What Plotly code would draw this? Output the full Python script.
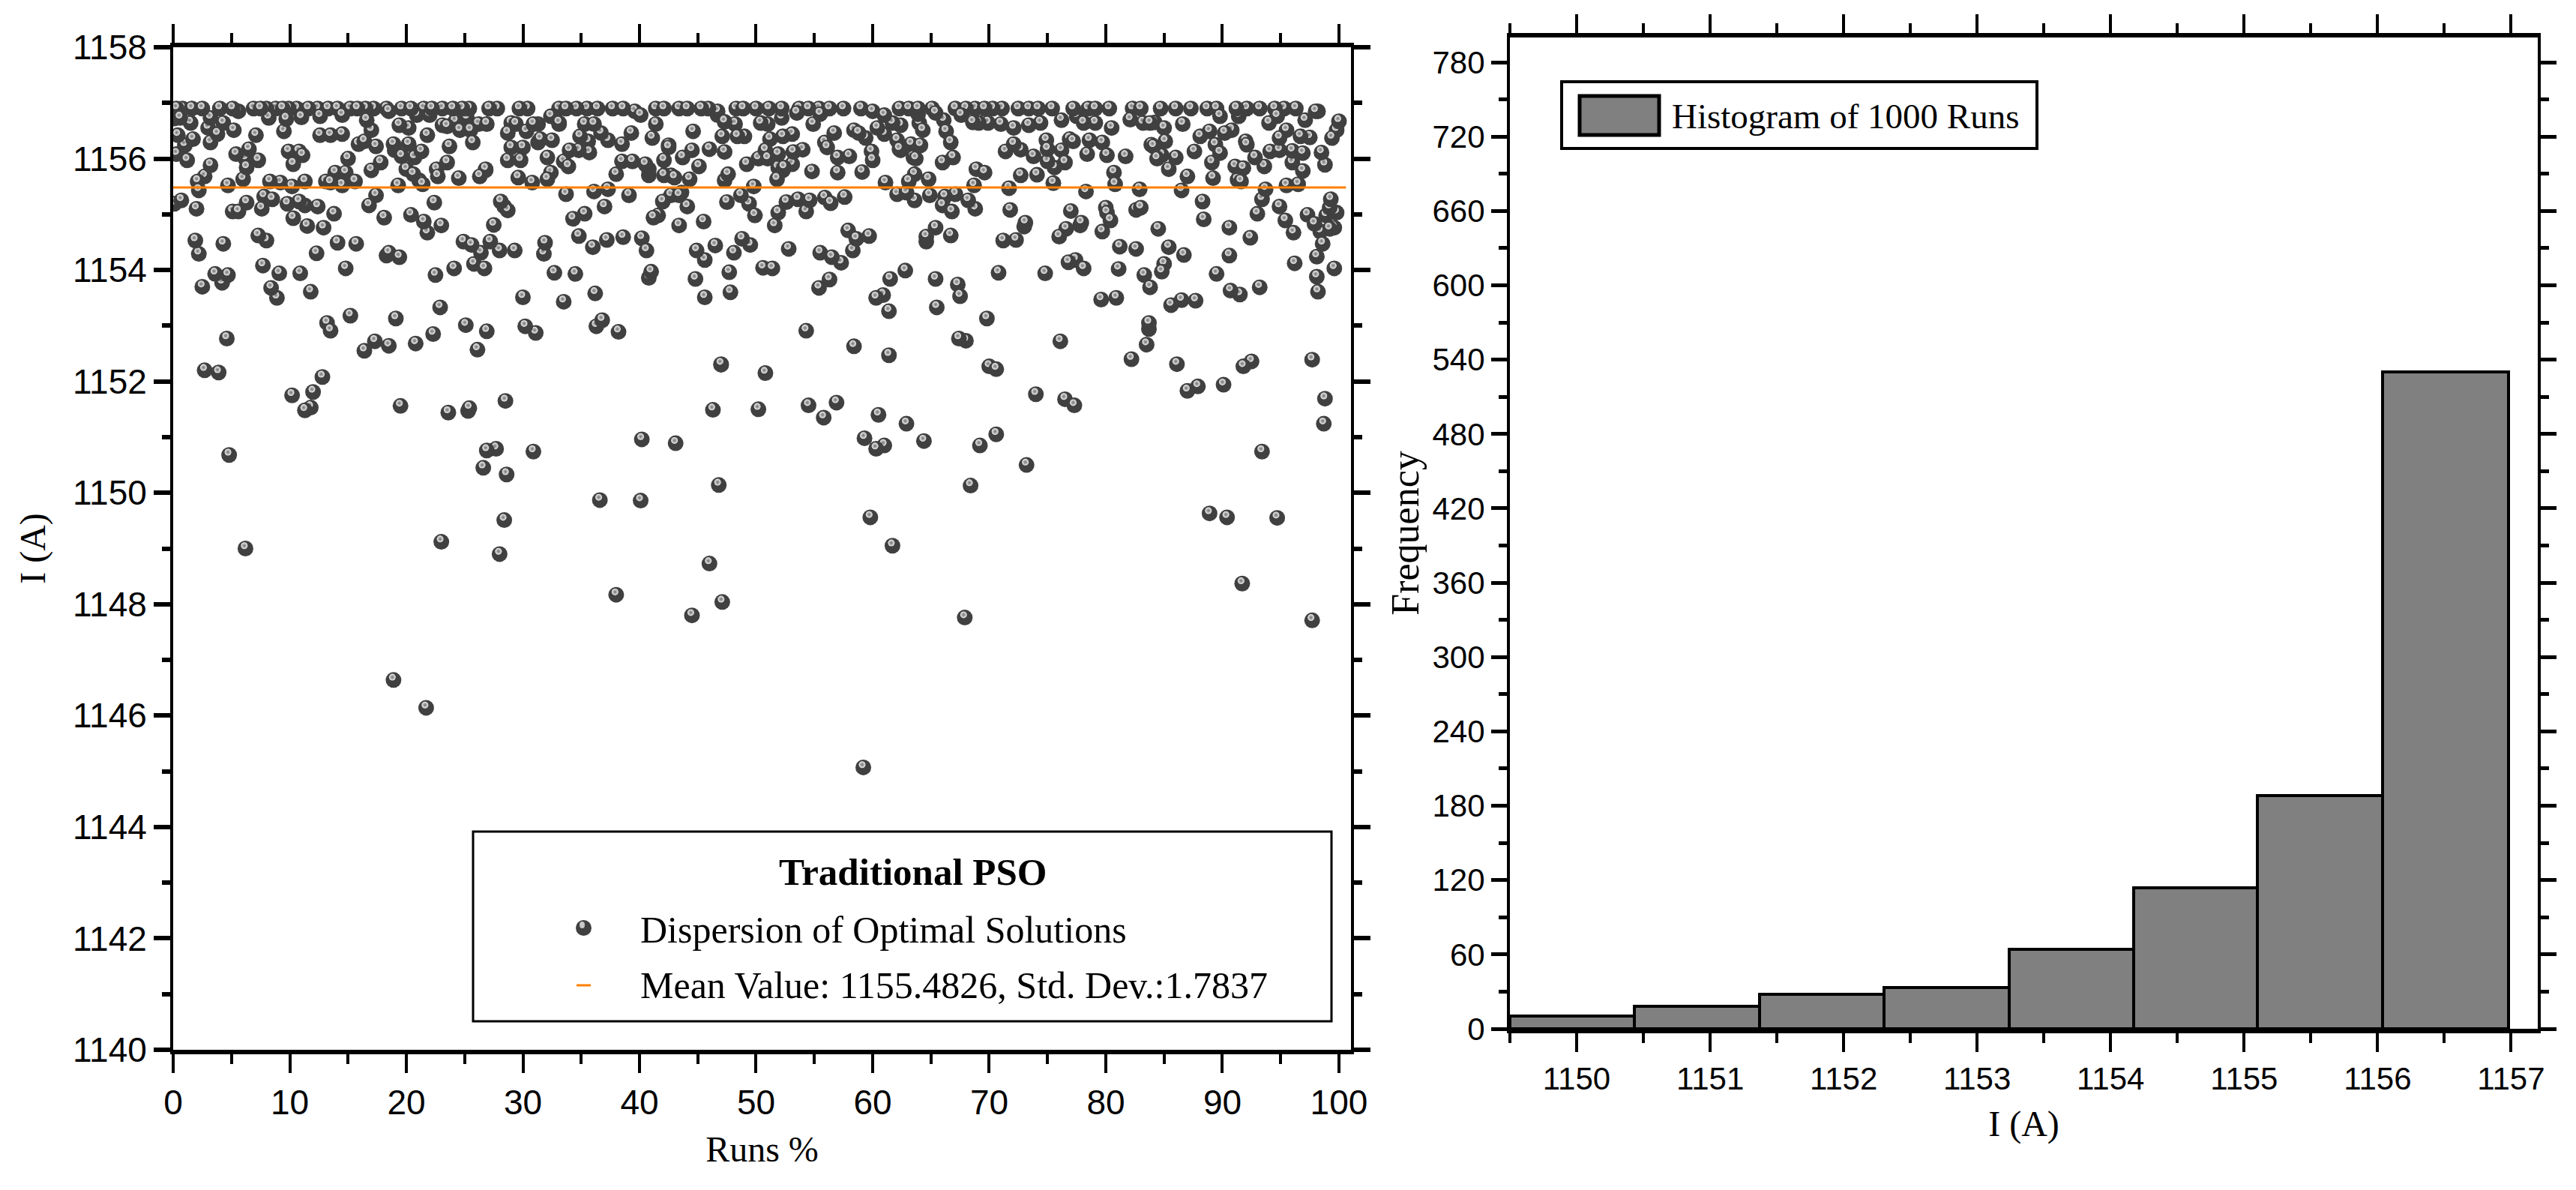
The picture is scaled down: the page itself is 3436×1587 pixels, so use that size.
import plotly.graph_objects as go
from plotly.subplots import make_subplots

W, H = 3436, 1587
OFF = 8  # the page's own body margin
SANS = "Liberation Sans, Arial, sans-serif"
SERIF = "Liberation Serif, serif"

# --- Left panel: (Runs %, I in A), by height band ---
top_row_runs = [0.3,0.8,1.6,2.5,4.0,5.1,6.9,7.5,8.0,8.8,9.4,9.9,10.6,11.6,12.4,13.3,14.1,15.2,15.8,16.5,17.2,18.3,19.6,20.4,21.5,22.2,23.1,24.0,24.8,25.4,27.1,27.8,29.7,30.4,33.1,33.7,34.6,35.5,36.4,37.7,38.6,41.4,42.1,
 43.4,44.1,45.3,45.9,48.3,48.9,50.0,51.1,52.2,53.7,54.5,55.4,56.3,57.5,59.0,62.3,63.1,63.9,65.1,67.1,68.0,68.8,69.6,70.3,71.1,72.5,73.4,74.2,75.4,77.2,78.5,79.1,80.3,82.3,83.0,84.7,86.0,87.3,88.7,89.5,91.2,92.1,93.2,94.5,95.3,96.3]
top_row_current = 1156.9

band_a = [(0.1,1156.72),(0.6,1156.73),(1.5,1156.64),(3.2,1156.73),(4.3,1156.64),(5.6,1156.85),(8.2,1156.73),(9.7,1156.71),(11.0,1156.74),(12.6,1156.76),(14.5,1156.78),(16.6,1156.69),(18.5,1156.85),(20.9,1156.78),(22.0,1156.78),(24.2,1156.67),(25.2,1156.73),(29.4,1156.62),(31.3,1156.62),(32.4,1156.76),(33.1,1156.62),(35.3,1156.62),(36.1,1156.62),(40.1,1156.78),(39.6,1156.85),(41.4,1156.62),
 (46.7,1156.85),(46.7,1156.78),(47.3,1156.66),(48.2,1156.62),(50.4,1156.64),(51.0,1156.62),(52.2,1156.73),(55.5,1156.80),(54.9,1156.62),(53.5,1156.82),(60.0,1156.85),(61.0,1156.78),(61.7,1156.64),(62.4,1156.60),(63.9,1156.80),(64.0,1156.64),(65.4,1156.82),(66.1,1156.69),(67.6,1156.78),(68.6,1156.65),(69.1,1156.64),(69.9,1156.64),(71.0,1156.62),(72.1,1156.55),(73.4,1156.60),(74.4,1156.64),(76.2,1156.69),(77.5,1156.76),(78.1,1156.64),(79.1,1156.64),(82.1,1156.70),(83.2,1156.64),(84.2,1156.65),(85.0,1156.55),(86.6,1156.62),(89.8,1156.76),(91.4,1156.76),(94.7,1156.76),(97.1,1156.69),(98.2,1156.85),(94.0,1156.64),(83.8,1156.64),(80.5,1156.55),(98.0,1156.85)]

band_b = [(3.0,1156.55),(3.8,1156.44),(5.2,1156.51),(7.1,1156.42),(0.4,1156.42),(1.7,1156.35),(1.0,1156.24),(3.2,1156.29),(12.6,1156.42),(13.5,1156.42),(14.5,1156.44),(9.5,1156.49),(17.0,1156.51),(19.4,1156.60),(20.2,1156.55),(21.8,1156.42),(23.1,1156.60),(23.5,1156.58),(24.6,1156.51),(25.5,1156.51),(26.2,1156.62),(26.9,1156.62),(28.7,1156.46),(30.3,1156.49),(29.0,1156.64),(30.9,1156.62),(31.5,1156.35),(32.5,1156.33),(33.1,1156.64),(34.9,1156.40),(35.6,1156.31),(36.7,1156.46),(37.3,1156.33),(38.5,1156.26),(39.3,1156.46),(41.1,1156.37),(42.5,1156.24),(15.9,1156.26),(16.4,1156.31),(17.4,1156.22),(18.9,1156.26),(20.2,1156.26),(23.7,1156.22),(25.7,1156.29),(29.0,1156.20),(30.0,1156.20),(31.3,1156.29),
 (44.6,1156.49),(47.1,1156.40),(49.0,1156.40),(48.4,1156.40),(53.1,1156.44),(51.2,1156.35),(52.3,1156.40),(56.7,1156.46),(58.4,1156.51),(59.4,1156.37),(58.8,1156.46),(60.4,1156.55),(61.0,1156.44),(62.1,1156.33),(63.3,1156.26),(64.1,1156.24),(64.3,1156.51),(66.3,1156.49),(66.7,1156.29),(72.1,1156.26),(71.4,1156.13),(72.7,1156.16),(74.9,1156.33),(75.0,1156.17),(76.9,1156.35),(77.2,1156.31),(78.6,1156.33),(79.7,1156.29),(83.9,1156.25),(85.1,1156.31),(88.1,1156.40),(88.9,1156.49),(90.8,1156.51),(90.2,1156.46),(92.0,1156.31),(92.1,1156.25),(95.5,1156.51),(94.9,1156.37),(96.7,1156.40),(97.5,1156.38),(100.0,1156.67),(99.8,1156.51),(99.4,1156.37),(89.4,1156.25),(55.9,1156.29),(56.1,1156.20),(62.3,1156.17)]

band_c = [(0.3,1156.08),(1.2,1155.97),(5.4,1156.08),(6.2,1156.0),(7.3,1155.97),(6.5,1156.17),(9.9,1156.13),(10.8,1156.13),(11.1,1156.06),(10.3,1155.90),(15.0,1156.0),(17.8,1155.93),(17.0,1155.79),(19.0,1156.15),(19.6,1156.04),(21.3,1156.13),(20.7,1156.02),(23.5,1155.93),(22.6,1155.81),(26.8,1155.81),(28.7,1155.97),(29.8,1155.97),(32.1,1156.02),(33.5,1155.95),(33.9,1155.86),(34.0,1156.15),(34.8,1156.15),(35.7,1156.11),(38.5,1155.95),(39.4,1155.95),(40.5,1155.90),(40.8,1155.81),(42.1,1155.97),(42.5,1156.20),(3.2,1155.88),(6.3,1155.84),(20.0,1155.81),
 (44.5,1156.15),(46.0,1156.17),(47.3,1156.12),(43.7,1156.02),(45.1,1155.86),(50.8,1156.15),(51.9,1156.08),(54.0,1156.16),(53.2,1156.12),(49.2,1155.90),(50.2,1156.0),(51.0,1156.0),(51.9,1155.84),(53.1,1155.90),(52.4,1155.84),(57.0,1156.02),(58.0,1156.04),(59.9,1156.13),(60.0,1155.97),(62.4,1156.15),(63.5,1156.02),(63.7,1156.0),(66.0,1155.93),(66.9,1156.02),(68.9,1155.81),(69.6,1155.75),(73.8,1156.04),(76.2,1156.15),(75.0,1155.95),(76.5,1155.93),(75.6,1155.84),(78.4,1156.08),(80.1,1156.06),(81.7,1156.04),(84.1,1156.22),(84.4,1156.0),(84.8,1156.06),(86.0,1156.02),(85.4,1155.81),(87.6,1156.13),(89.1,1155.93),(89.8,1156.10),(91.1,1155.86),(91.8,1155.83),(92.8,1156.02),(93.6,1155.86),(94.1,1156.13),(94.9,1156.15),(96.0,1156.14),(96.9,1156.10),(96.0,1155.93),(98.5,1156.11),(98.8,1155.89),(96.9,1155.78)]

band_d = [(2.7,1155.68),(2.1,1155.59),(4.7,1155.52),(6.0,1155.63),(8.3,1155.59),(9.2,1155.57),(10.2,1155.50),(11.3,1155.59),(13.9,1155.75),(14.8,1155.75),(13.1,1155.59),(13.5,1155.57),(14.5,1155.52),(15.6,1155.59),(19.3,1155.52),(20.6,1155.72),(21.1,1155.61),(21.4,1155.54),(22.7,1155.68),(24.5,1155.65),(26.3,1155.68),(26.8,1155.79),(29.6,1155.66),(30.8,1155.57),(32.1,1155.63),(32.4,1155.75),(38.0,1155.72),(40.8,1155.70),(42.1,1155.70),(42.7,1155.70),
 (54.8,1155.77),(57.0,1155.75),(59.1,1155.76),(52.3,1155.79),(51.8,1155.63),(47.6,1155.72),(47.3,1155.61),(44.3,1155.63),(43.0,1155.66),(49.8,1155.50),(61.1,1155.57),(63.1,1155.59),(63.6,1155.72),(64.8,1155.63),(68.7,1155.52),(72.7,1155.70),(74.1,1155.71),(75.5,1155.56),(71.7,1155.47),(80.7,1155.75),(80.8,1155.54),(82.9,1155.45),(86.5,1155.43),(87.0,1155.68),(89.2,1155.65),(91.3,1155.62),(91.6,1155.59),(95.5,1155.52),(96.5,1155.54),(78.3,1155.41),(93.7,1155.45)]

band_e = [(2.2,1155.43),(33.7,1155.36),(36.1,1155.41),(37.3,1155.45),(39.1,1155.34),(42.7,1155.34),(17.4,1155.34),(0.7,1155.25),(0.1,1155.19),(2.0,1155.10),(6.3,1155.21),(5.1,1155.05),(5.6,1155.05),(7.6,1155.10),(7.8,1155.32),(8.5,1155.27),(9.8,1155.19),(10.8,1155.23),(11.3,1155.16),(12.4,1155.14),(13.8,1155.01),(16.8,1155.16),(18.1,1154.94),(20.4,1154.99),(21.5,1154.87),(22.4,1155.21),(23.0,1154.80),(28.1,1155.23),(28.4,1155.14),(28.7,1155.07),(34.3,1154.92),(35.3,1155.01),(37.0,1155.14),(42.0,1155.23),(41.6,1154.98),(41.2,1154.94),(10.3,1154.93),(11.5,1154.79),(12.9,1154.76),(27.5,1154.81),
 (43.6,1155.39),(43.4,1155.34),(44.1,1155.14),(47.5,1155.22),(48.7,1155.34),(49.4,1155.19),(49.9,1154.98),(51.9,1155.03),(52.6,1155.22),(53.6,1155.27),(54.6,1155.25),(54.3,1155.05),(55.9,1155.30),(56.4,1155.20),(57.6,1155.31),(62.1,1155.36),(62.9,1155.39),(63.6,1155.25),(64.9,1155.34),(66.2,1155.32),(67.1,1155.36),(66.0,1155.16),(66.8,1155.05),(68.2,1155.25),(68.8,1155.10),(71.8,1155.08),(77.0,1155.06),(80.0,1155.12),(80.1,1155.03),(82.6,1155.08),(83.0,1155.12),(88.3,1155.23),(88.4,1154.91),(93.4,1155.27),(93.0,1155.01),(94.9,1155.14),(95.4,1154.89),(97.3,1154.99),(99.3,1155.27),(99.2,1155.12),(98.9,1154.98),(99.8,1155.03),(73.1,1154.85),(80.4,1154.89),(77.9,1154.85),(90.6,1154.76),(97.9,1154.83),(43.4,1154.80),(45.5,1154.87),(51.6,1154.80),(73.0,1154.78)]

band_f = [(21.8,1154.67),(7.3,1154.62),(8.0,1154.53),(1.9,1154.53),(4.3,1154.47),(2.2,1154.29),(14.1,1154.49),(15.7,1154.47),(12.3,1154.30),(18.5,1154.31),(19.4,1154.23),(18.3,1154.26),(24.9,1154.51),(25.6,1154.45),(26.4,1154.31),(27.2,1154.51),(28.0,1154.35),(29.3,1154.35),(31.9,1154.49),(31.8,1154.29),(34.8,1154.61),(36.0,1154.41),(37.2,1154.54),(38.6,1154.59),(40.2,1154.57),(40.6,1154.35),(25.8,1154.11),(26.7,1154.03),(7.7,1154.08),(9.1,1153.94),(10.9,1153.94),(14.8,1154.03),(22.5,1153.91),(24.1,1154.03),(3.6,1153.93),(4.7,1153.91),(4.2,1153.77),(32.7,1153.95),(34.5,1153.93),(41.0,1153.97),(40.8,1153.86),
 (57.9,1154.71),(59.7,1154.61),(58.6,1154.56),(58.3,1154.35),(76.6,1154.74),(76.0,1154.60),(77.8,1154.80),(79.7,1154.69),(84.5,1154.74),(65.4,1154.76),(66.7,1154.62),(64.6,1154.60),(64.6,1154.51),(71.2,1154.53),(72.3,1154.54),(96.1,1154.67),(92.4,1154.58),(98.4,1154.69),(99.6,1154.76),(99.2,1154.74),(98.6,1154.47),(48.8,1154.56),(49.5,1154.45),(46.5,1154.44),(44.9,1154.35),(48.1,1154.31),(45.6,1154.18),(52.8,1154.38),(55.5,1154.31),(56.5,1154.23),(57.3,1154.13),(81.2,1154.42),(82.6,1154.38),(85.4,1154.41),(86.7,1154.27),(90.6,1154.26),(76.8,1154.14),(77.4,1154.18),(78.1,1154.03),(81.1,1154.02),(98.1,1154.24),(96.2,1154.12),(99.6,1154.03),(85.0,1154.11),(84.8,1153.97),(83.3,1153.91),(50.6,1154.04),(51.4,1154.03),(47.7,1153.96),(44.8,1153.84),(62.8,1153.99),(61.5,1153.84),(56.3,1153.83),(65.4,1153.84),(70.8,1153.95),(74.8,1153.94),(89.5,1153.93),(98.1,1153.88)]

band_g = [(2.5,1153.70),(8.4,1153.68),(8.9,1153.50),(11.8,1153.61),(30.0,1153.51),(33.5,1153.43),(36.2,1153.58),(22.9,1153.33),(13.2,1153.05),(13.5,1152.91),(15.2,1153.18),(19.1,1153.13),(25.1,1153.01),(26.9,1152.90),(30.2,1152.99),(31.1,1152.87),(36.3,1152.99),(36.8,1153.10),(38.2,1152.89),(22.3,1152.85),(20.8,1152.68),(17.3,1152.72),(18.5,1152.64),(16.4,1152.55),(26.1,1152.57),(4.6,1152.77),
 (55.4,1153.68),(67.3,1153.74),(67.5,1153.53),(45.6,1153.51),(47.8,1153.60),(83.8,1153.69),(90.7,1153.63),(91.5,1153.56),(93.2,1153.69),(98.2,1153.61),(60.3,1153.50),(60.9,1153.55),(61.4,1153.26),(79.6,1153.47),(80.9,1153.50),(85.6,1153.37),(86.5,1153.46),(87.7,1153.45),(65.5,1153.33),(69.8,1153.13),(83.7,1153.05),(83.7,1152.94),(54.3,1152.91),(67.4,1152.77),(68.0,1152.73),(76.1,1152.72),(58.4,1152.63),(83.5,1152.66),(61.4,1152.47),(82.2,1152.40),(92.5,1152.36),(97.7,1152.39),(86.1,1152.31),(91.8,1152.27),(47.0,1152.30),(50.8,1152.15),(70.0,1152.27),(70.6,1152.22)]

band_h = [(2.7,1152.2),(3.9,1152.16),(12.8,1152.08),(10.2,1151.75),(12.0,1151.81),(11.3,1151.48),(11.8,1151.53),(19.5,1151.56),(23.6,1151.44),(25.3,1151.47),(25.4,1151.52),(28.5,1151.65),(4.8,1150.68),(26.9,1150.76),(27.7,1150.79),(30.9,1150.74),(26.6,1150.45),(28.6,1150.33),(40.2,1150.96),(43.1,1150.89),(46.8,1150.14),(36.6,1149.87),(40.1,1149.86),(28.4,1149.51),(6.2,1149.0),(23.0,1149.12),(28.0,1148.9),(46.0,1148.73),(38.0,1148.17),(47.1,1148.04),(44.5,1147.8),(18.9,1146.64),(21.7,1146.14),(47.0,1152.31),(46.3,1151.49),(50.2,1151.5),
 (54.5,1151.57),(55.8,1151.35),(56.9,1151.62),(60.5,1151.4),(62.9,1151.24),(59.3,1150.98),(60.3,1150.79),(61.0,1150.85),(64.4,1150.93),(69.2,1150.85),(70.6,1151.05),(73.2,1150.5),(68.4,1150.13),(59.8,1149.56),(61.7,1149.05),(67.9,1147.76),(59.2,1145.07),(74.0,1151.77),(76.5,1151.68),(77.3,1151.57),(87.0,1151.83),(87.9,1151.91),(90.1,1151.94),(98.8,1151.69),(98.7,1151.24),(93.4,1150.74),(88.9,1149.63),(90.4,1149.56),(94.7,1149.55),(91.7,1148.37),(97.7,1147.71)]

mean_runs = [0, 100.6]
mean_value = 1155.4826

# --- Right panel ---
bin_edges = [1149.5,1150.43,1151.37,1152.30,1153.24,1154.17,1155.10,1156.04,1156.98]
frequency = [10,18,28,33,64,114,188,530]

points = sorted([(r, top_row_current) for r in top_row_runs] + band_a + band_b + band_c + band_d + band_e + band_f + band_g + band_h)

fig = make_subplots(rows=1, cols=2)

# Overlapping spheres: drawn in several passes so later bodies can cover earlier highlights.
PASSES = 7
for k in range(PASSES):
    group = points[k::PASSES]
    xs = [p[0] for p in group]
    ys = [p[1] for p in group]
    fig.add_trace(go.Scatter(x=xs, y=ys, mode="markers", name="Dispersion of Optimal Solutions",
        marker=dict(size=21, color="#404040", line=dict(width=0)), showlegend=False), row=1, col=1)
    fig.add_trace(go.Scatter(x=[v-0.1 for v in xs], y=[v+0.05 for v in ys], mode="markers",
        hoverinfo="skip", showlegend=False,
        marker=dict(size=9, color="#eeeeee", gradient=dict(type="radial", color="#707070"), line=dict(width=0))), row=1, col=1)
fig.add_trace(go.Scatter(x=mean_runs, y=[mean_value, mean_value], mode="lines", name="Mean Value: 1155.4826, Std. Dev.:1.7837",
    line=dict(color="#ff8000", width=3), showlegend=False), row=1, col=1)

centers = [(a+b)/2 for a, b in zip(bin_edges[:-1], bin_edges[1:])]
widths = [b-a for a, b in zip(bin_edges[:-1], bin_edges[1:])]
fig.add_trace(go.Bar(x=centers, y=frequency, width=widths, name="Histogram of 1000 Runs",
    marker=dict(color="#808080", line=dict(color="black", width=4)), showlegend=False), row=1, col=2)

def px(v): return (v-OFF)/W
def py(v): return 1-(v-OFF)/H

def ax_common(size):
    return dict(showgrid=False, zeroline=False, showline=True, linecolor="black", mirror="allticks", automargin=False,
                ticks="outside", tickcolor="black", tickfont=dict(family=SANS, size=size, color="black"))

fig.update_xaxes(domain=[px(231), px(1802)], range=[0, 101.03], tick0=0, dtick=10, ticklen=25, tickwidth=4, linewidth=6,
    minor=dict(dtick=5, ticks="outside", ticklen=13, tickwidth=4, tickcolor="black", showgrid=False),
    title=dict(text="Runs %", font=dict(family=SERIF, size=48, color="black"), standoff=22), **ax_common(46), row=1, col=1)
fig.update_yaxes(domain=[py(1400), py(63)], range=[1140, 1158], tick0=1140, dtick=2, ticklen=22, tickwidth=6, linewidth=4,
    minor=dict(dtick=1, ticks="outside", ticklen=11, tickwidth=6, tickcolor="black", showgrid=False),
    title=dict(text="I (A)", font=dict(family=SERIF, size=48, color="black"), standoff=22), **ax_common(46), row=1, col=1)
fig.update_xaxes(domain=[px(2014), px(3385)], range=[1149.5, 1157.2], tick0=1150, dtick=1, ticklen=25, tickwidth=4, linewidth=6,
    minor=dict(dtick=0.5, ticks="outside", ticklen=13, tickwidth=4, tickcolor="black", showgrid=False),
    title=dict(text="I (A)", font=dict(family=SERIF, size=48, color="black"), standoff=22), **ax_common(42), row=1, col=2)
fig.update_yaxes(domain=[py(1372), py(50)], range=[0, 800], tick0=0, dtick=60, ticklen=21, tickwidth=5, linewidth=4,
    minor=dict(dtick=30, ticks="outside", ticklen=11, tickwidth=5, tickcolor="black", showgrid=False),
    title=dict(text="Frequency", font=dict(family=SERIF, size=52, color="black"), standoff=2), **ax_common(42), row=1, col=2)

def rect(x0, y0, x1, y1, lw, fill="white"):
    fig.add_shape(type="rect", xref="paper", yref="paper", x0=px(x0), x1=px(x1), y0=py(y0), y1=py(y1),
                  line=dict(color="black", width=lw), fillcolor=fill, layer="above")

def label(text, x, y, size, anchor="left", bold=False):
    t = f"<b>{text}</b>" if bold else text
    fig.add_annotation(text=t, xref="paper", yref="paper", x=px(x), y=py(y), xanchor=anchor, yanchor="middle",
                       showarrow=False, font=dict(family=SERIF, size=size, color="black"))

# left legend
rect(631, 1109, 1776, 1362, 3)
label("Traditional PSO", 1218, 1163, 51, "center", True)
label("Dispersion of Optimal Solutions", 852, 1240, 50)
label("Mean Value: 1155.4826, Std. Dev.:1.7837", 852, 1314, 50)
fig.add_shape(type="circle", xref="paper", yref="paper", x0=px(768), x1=px(789), y0=py(1227), y1=py(1248),
              fillcolor="#404040", line=dict(width=0), layer="above")
fig.add_shape(type="circle", xref="paper", yref="paper", x0=px(773), x1=px(780), y0=py(1229), y1=py(1238),
              fillcolor="#c8c8c8", line=dict(width=0), layer="above")
fig.add_shape(type="line", xref="paper", yref="paper", x0=px(769), x1=px(788), y0=py(1314), y1=py(1314),
              line=dict(color="#ff8000", width=3), layer="above")

# right legend
rect(2083, 109, 2717, 198, 4)
rect(2107, 128, 2213, 180, 5, "#808080")
label("Histogram of 1000 Runs", 2228, 155, 47)

fig.update_layout(width=W, height=H, margin=dict(l=0, r=0, t=0, b=0), paper_bgcolor="white", plot_bgcolor="white",
                  showlegend=False, barmode="overlay", bargap=0)
fig.write_html("out.html")
